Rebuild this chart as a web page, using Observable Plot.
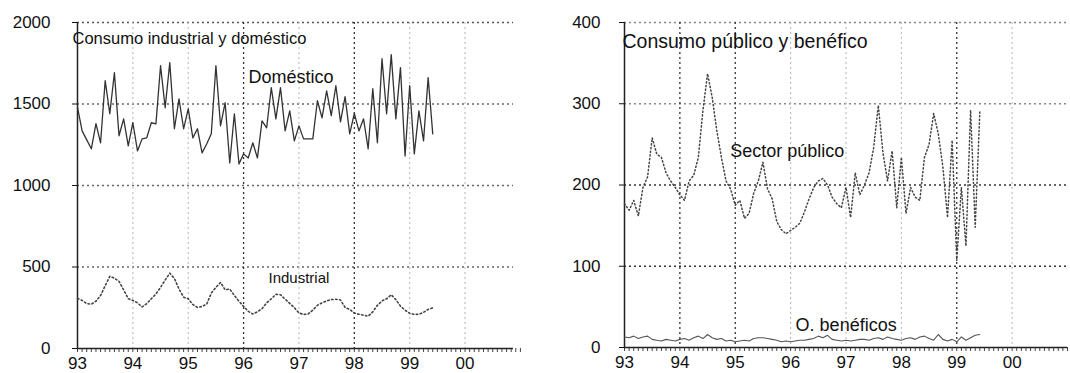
<!DOCTYPE html>
<html>
<head>
<meta charset="utf-8">
<script src="https://cdn.jsdelivr.net/npm/d3@7"></script>
<script src="https://cdn.jsdelivr.net/npm/@observablehq/plot@0.6"></script>
<style>
  html, body { margin: 0; padding: 0; background: #fff; }
  #wrap { display: flex; width: 1070px; height: 373px; overflow: hidden; }
  svg { display: block; }
</style>
</head>
<body>
<div id="wrap"></div>
<script>
// ---- Data (monthly, starting January 1993) ----
const startYear = 1993;
const domestico = [
  1480, 1335, 1280, 1225, 1380, 1262, 1643, 1440, 1692, 1305, 1409, 1243,
  1385, 1212, 1286, 1292, 1385, 1378, 1735, 1477, 1754, 1348, 1532, 1348,
  1470, 1292, 1348, 1200, 1255, 1317, 1735, 1366, 1508, 1138, 1440, 1132,
  1194, 1169, 1262, 1169, 1397, 1354, 1600, 1409, 1600, 1335, 1458, 1274,
  1366, 1286, 1286, 1286, 1520, 1415, 1581, 1428, 1612, 1390, 1545, 1317,
  1443, 1335, 1409, 1225, 1594, 1262, 1778, 1440, 1803, 1409, 1723, 1181,
  1612, 1194, 1458, 1274, 1662, 1317
];
const industrial = [
  308, 295, 275, 272, 290, 325, 385, 443, 431, 412, 360, 305,
  295, 280, 255, 275, 305, 335, 375, 420, 462, 430, 365, 315,
  305, 270, 252, 258, 272, 340, 375, 405, 360, 365, 325, 290,
  258, 228, 212, 225, 245, 280, 305, 332, 330, 302, 277, 250,
  218, 209, 212, 235, 265, 280, 292, 300, 302, 298, 252, 240,
  218, 210, 205, 198, 225, 265, 292, 305, 330, 300, 260, 235,
  215, 209, 210, 222, 240, 250
];
const sectorPublico = [
  177, 169, 181, 162, 197, 210, 258, 238, 234, 215, 205, 197,
  188, 181, 205, 212, 234, 292, 337, 308, 267, 234, 205, 195,
  175, 181, 159, 165, 190, 205, 228, 195, 183, 155, 145, 140,
  144, 148, 153, 167, 183, 197, 205, 208, 200, 185, 177, 172,
  197, 160, 215, 188, 200, 215, 246, 298, 240, 205, 242, 172,
  234, 165, 197, 185, 181, 234, 250, 288, 263, 222, 160, 255,
  107, 197, 125, 292, 148, 290
];
const beneficos = [
  13, 12, 14, 11, 13, 14, 10, 9, 8, 10, 9, 8,
  10, 11, 9, 12, 14, 11, 16, 12, 10, 11, 8, 9,
  7, 8, 9, 8, 11, 12, 12, 11, 10, 9, 7, 8,
  7, 8, 9, 9, 10, 11, 14, 12, 15, 10, 9, 8,
  9, 8, 9, 10, 10, 9, 11, 12, 10, 13, 11, 10,
  9, 11, 12, 10, 13, 14, 11, 9, 16, 10, 8, 10,
  7, 13, 9, 12, 15, 16
];
const xTicks = [1993, 1994, 1995, 1996, 1997, 1998, 1999, 2000];
const xTickLabels = ["93", "94", "95", "96", "97", "98", "99", "00"];
const yTicksLeft = [0, 500, 1000, 1500, 2000];
const yTicksRight = [0, 100, 200, 300, 400];

// table built from the arrays
const rows = domestico.map((v, i) => ({
  t: startYear + i / 12,
  dom: v,
  ind: industrial[i],
  pub: sectorPublico[i],
  ben: beneficos[i]
}));
const monthTicks = d3.range(0, 97).map(i => startYear + i / 12);
const fmtX = d => xTickLabels[xTicks.indexOf(d)];
const fmtY = d => String(d);

const font = "'Liberation Sans', Arial, sans-serif";
const baseStyle = {fontFamily: font, fontSize: "17px", color: "#111", background: "white", overflow: "visible"};
const dots = "2,3";

// ---- Left panel ----
const left = Plot.plot({
  width: 545, height: 373,
  marginLeft: 77, marginRight: 32, marginTop: 22, marginBottom: 25,
  style: baseStyle,
  x: {domain: [1993, 2000.875], label: null},
  y: {domain: [0, 2000], label: null},
  marks: [
    Plot.ruleY([500, 1000, 1500], {y: d => d, stroke: "#666", strokeDasharray: dots, strokeWidth: 1.3}),
    Plot.ruleY([2000], {y: d => d, stroke: "#555", strokeDasharray: dots, strokeWidth: 1.3}),
    Plot.ruleX([1994, 1995, 1997, 1999, 2000], {x: d => d, stroke: "#bbb", strokeDasharray: dots, strokeWidth: 1.1}),
    Plot.ruleX([1996, 1998], {x: d => d, stroke: "#333", strokeDasharray: dots, strokeWidth: 1.3}),
    Plot.axisY({ticks: yTicksLeft, tickFormat: fmtY, tickSize: 5, tickPadding: 22, fontSize: 17, label: null}),
    Plot.axisX({ticks: monthTicks, tickSize: 4, tickFormat: () => "", stroke: "#444", label: null}),
    Plot.axisX({ticks: xTicks, tickFormat: fmtX, tickSize: 0, tickPadding: 8, fontSize: 17, label: null}),
    Plot.ruleX([1993], {stroke: "#222", strokeWidth: 1.5}),
    Plot.ruleY([0], {stroke: "#222", strokeWidth: 1.5}),
    Plot.line(rows, {x: "t", y: "dom", stroke: "#333", strokeWidth: 1.3}),
    Plot.line(rows, {x: "t", y: "ind", stroke: "#444", strokeWidth: 1.6, strokeDasharray: "1.5,2.5"}),
    Plot.text(["Consumo industrial y doméstico"], {frameAnchor: "top-left", dx: -5, dy: 16, textAnchor: "start", lineAnchor: "middle", fontSize: 16.5, fill: "#111"}),
    Plot.text(["Doméstico"], {x: 1996.09, y: 1663, textAnchor: "start", lineAnchor: "middle", fontSize: 18, fill: "#111"}),
    Plot.text(["Industrial"], {x: 1996.45, y: 430, textAnchor: "start", lineAnchor: "middle", fontSize: 15, fill: "#111"})
  ]
});

// ---- Right panel ----
const right = Plot.plot({
  width: 525, height: 373,
  marginLeft: 79, marginRight: 3, marginTop: 22, marginBottom: 26,
  style: baseStyle,
  x: {domain: [1993, 2001], label: null},
  y: {domain: [0, 400], label: null},
  marks: [
    Plot.ruleY([300, 400], {y: d => d, stroke: "#888", strokeDasharray: dots, strokeWidth: 1.3}),
    Plot.ruleY([100, 200], {y: d => d, stroke: "#333", strokeDasharray: dots, strokeWidth: 1.3}),
    Plot.ruleX([1996, 1997, 1998, 2000], {x: d => d, stroke: "#bbb", strokeDasharray: dots, strokeWidth: 1.1}),
    Plot.ruleX([1994, 1995, 1999], {x: d => d, stroke: "#333", strokeDasharray: dots, strokeWidth: 1.3}),
    Plot.axisY({ticks: yTicksRight, tickFormat: fmtY, tickSize: 5, tickPadding: 19, fontSize: 17, label: null}),
    Plot.axisX({ticks: monthTicks, tickSize: 4, tickFormat: () => "", stroke: "#444", label: null}),
    Plot.axisX({ticks: xTicks, tickFormat: fmtX, tickSize: 0, tickPadding: 8, fontSize: 17, label: null}),
    Plot.ruleX([1993], {stroke: "#222", strokeWidth: 1.5}),
    Plot.ruleY([0], {stroke: "#222", strokeWidth: 1.5}),
    Plot.line(rows, {x: "t", y: "pub", stroke: "#444", strokeWidth: 1.5, strokeDasharray: "1.2,2.5"}),
    Plot.line(rows, {x: "t", y: "ben", stroke: "#555", strokeWidth: 1.1}),
    Plot.text(["Consumo público y benéfico"], {frameAnchor: "top-left", dx: -2, dy: 19, textAnchor: "start", lineAnchor: "middle", fontSize: 19.5, fill: "#111"}),
    Plot.text(["Sector público"], {x: 1994.91, y: 242, textAnchor: "start", lineAnchor: "middle", fontSize: 18, fill: "#111"}),
    Plot.text(["O. benéficos"], {x: 1996.09, y: 27, textAnchor: "start", lineAnchor: "middle", fontSize: 18, fill: "#111"})
  ]
});

const wrap = document.getElementById("wrap");
wrap.appendChild(left);
wrap.appendChild(right);
</script>
</body>
</html>
